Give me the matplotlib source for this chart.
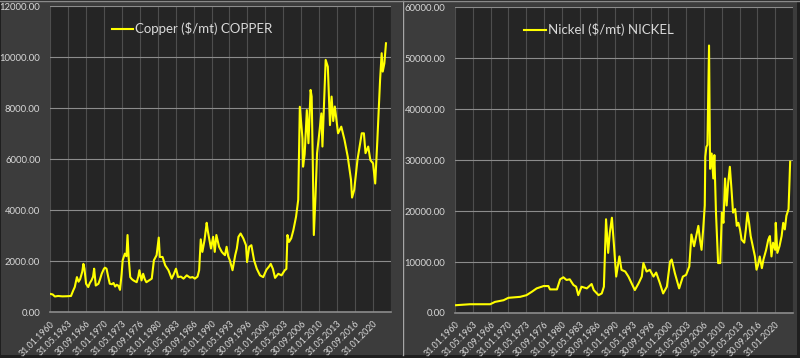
import matplotlib
matplotlib.use("Agg")
import matplotlib.pyplot as plt
from matplotlib.patches import Rectangle
from matplotlib.lines import Line2D

# ---------------- data ----------------
copper_years = [1960.0, 1960.5, 1960.9, 1961.5, 1962.3, 1963.1, 1963.9, 1964.3, 1964.6, 1965.0,
                1965.3, 1965.6, 1966.0, 1966.2, 1966.4, 1966.7, 1967.1, 1967.4, 1967.7, 1968.0,
                1968.2, 1968.5, 1969.0, 1969.3, 1969.6, 1970.0, 1970.2, 1970.5, 1970.8, 1971.1,
                1971.5, 1971.8, 1972.1, 1972.4, 1972.7, 1973.0, 1973.3, 1973.5, 1973.9, 1974.2,
                1974.4, 1974.6, 1974.9, 1975.2, 1975.5, 1976.1, 1976.4, 1976.6, 1977.0, 1977.3,
                1977.6, 1977.9, 1978.4, 1978.9, 1979.3, 1979.8, 1980.2, 1980.4, 1980.9, 1981.4,
                1982.0, 1982.6, 1983.0, 1983.4, 1983.8, 1984.3, 1984.8, 1985.4, 1986.0, 1986.5,
                1986.9, 1987.4, 1987.7, 1988.0, 1988.3, 1988.7, 1989.1, 1989.3, 1989.5, 1989.9,
                1990.3, 1990.6, 1990.9, 1991.4, 1991.9, 1992.2, 1992.5, 1992.8, 1993.1, 1993.4,
                1993.9, 1994.4, 1994.7, 1995.0, 1995.4, 1995.9, 1996.4, 1996.6, 1997.0, 1997.4,
                1997.9, 1998.4, 1999.0, 1999.6, 2000.2, 2000.7, 2001.0, 2001.4, 2001.8, 2002.4,
                2003.0, 2003.6, 2003.9, 2004.1, 2004.4, 2004.8, 2005.2, 2005.7, 2006.1, 2006.4,
                2006.7, 2006.9, 2007.0, 2007.3, 2007.7, 2008.0, 2008.4, 2008.6, 2008.8, 2009.0,
                2009.3, 2009.6, 2010.0, 2010.4, 2010.6, 2011.2, 2011.6, 2012.0, 2012.3, 2012.6,
                2012.9, 2013.5, 2014.1, 2014.7, 2015.3, 2015.9, 2016.1, 2016.5, 2016.8, 2017.1,
                2017.9, 2018.3, 2018.6, 2019.1, 2019.5, 2020.0, 2020.4, 2020.8, 2021.3, 2021.6,
                2021.8, 2022.1, 2022.4]
copper_vals = [724, 700, 620, 640, 625, 630, 640, 850, 990, 1380,
               1200, 1300, 1600, 1900, 1710, 1120, 990, 1150, 1250, 1400,
               1710, 1050, 1120, 1300, 1510, 1700, 1750, 1710, 1400, 1120,
               1100, 1150, 1010, 1080, 1040, 880, 1500, 2040, 2300, 2200,
               3030, 2170, 1380, 1300, 1250, 1180, 1400, 1650, 1250, 1510,
               1300, 1180, 1250, 1320, 2040, 2240, 2930, 2170, 2170, 1840,
               1650, 1320, 1500, 1710, 1380, 1400, 1320, 1450, 1360, 1380,
               1320, 1400, 1650, 2860, 2370, 2830, 3510, 3200, 2960, 2500,
               2960, 2370, 3030, 2570, 2370, 2300, 2240, 2570, 2200, 2040,
               1650, 2240, 2500, 2960, 3090, 2900, 2630, 1970, 2570, 2630,
               2040, 1710, 1450, 1380, 1670, 1800, 1900, 1700, 1350, 1510,
               1450, 1650, 1700, 3030, 2760, 2900, 3220, 3750, 4410, 8060,
               7300, 6800, 5710, 6200, 7930, 6630, 8720, 8460, 6000, 3030,
               4500, 6240, 7000, 7800, 6500, 9900, 9630, 7340, 8460, 7500,
               8070, 7020, 7280, 6760, 6100, 5200, 4500, 4800, 5400, 5970,
               7020, 7020, 6240, 6500, 5970, 5840, 5050, 6760, 9090, 10160,
               9440, 9760, 10550]

nickel_years = [1960.0, 1962.8, 1966.6, 1967.5, 1969.1, 1970.0, 1972.2, 1973.4, 1974.4, 1975.3,
                1976.6, 1977.5, 1977.8, 1979.1, 1979.7, 1980.3, 1980.9, 1981.5, 1982.2, 1982.7,
                1983.1, 1983.7, 1984.7, 1985.6, 1986.0, 1986.9, 1987.5, 1987.9, 1988.3, 1988.7,
                1989.0, 1989.4, 1989.8, 1990.2, 1990.8, 1991.2, 1991.9, 1992.5, 1993.1, 1993.7,
                1994.4, 1995.0, 1995.3, 1995.9, 1996.5, 1997.2, 1997.7, 1998.4, 1999.0, 1999.7,
                2000.3, 2000.6, 2001.2, 2002.0, 2002.7, 2003.3, 2003.9, 2004.3, 2004.8, 2005.2,
                2005.6, 2005.9, 2006.2, 2006.5, 2006.8, 2006.9, 2007.1, 2007.3, 2007.6, 2007.8,
                2008.1, 2008.4, 2008.6, 2008.9, 2009.3, 2009.7, 2010.0, 2010.3, 2010.6, 2010.9,
                2011.2, 2011.5, 2011.8, 2012.1, 2012.5, 2012.8, 2013.1, 2013.4, 2013.7, 2014.2,
                2014.5, 2014.8, 2015.1, 2015.4, 2015.8, 2016.2, 2016.5, 2016.8, 2017.1, 2017.5,
                2017.8, 2018.3, 2018.7, 2019.0, 2019.3, 2019.6, 2020.0, 2020.1, 2020.4, 2020.8,
                2021.2, 2021.5, 2021.8, 2022.1, 2022.5, 2022.8]
nickel_vals = [1520, 1720, 1720, 2180, 2510, 2980, 3170, 3500, 4170, 4830,
               5290, 5290, 4630, 4630, 6610, 7010, 6480, 6610, 5490, 5160,
               3500, 5160, 4830, 5690, 4500, 3500, 3840, 5160, 18400, 11800,
               15700, 18700, 13100, 7150, 11100, 8470, 8140, 7150, 5820, 4500,
               5820, 7150, 9800, 8140, 8470, 7150, 7940, 5820, 3840, 5160,
               10100, 10500, 7810, 4830, 7150, 7480, 9130, 15400, 13100, 15100,
               17100, 14400, 12400, 16400, 21100, 30650, 32600, 33000, 52500, 28300,
               31300, 26400, 31000, 19700, 9800, 9800, 19700, 17700, 26400, 21100,
               25700, 28700, 24400, 19700, 20400, 17100, 17700, 16400, 14400, 13800,
               16400, 19700, 17700, 15100, 13100, 11100, 8500, 9500, 11100, 8800,
               10500, 12400, 14400, 15100, 11100, 13800, 12400, 17700, 11800, 13100,
               15100, 17700, 16400, 19100, 20400, 29700]

date_labels = ["31.01.1960", "31.05.1963", "30.09.1966", "31.01.1970", "31.05.1973",
               "30.09.1976", "31.01.1980", "31.05.1983", "30.09.1986", "31.01.1990",
               "31.05.1993", "30.09.1996", "31.01.2000", "31.05.2003", "30.09.2006",
               "31.01.2010", "31.05.2013", "30.09.2016", "31.01.2020"]

copper_yticks = [0, 2000, 4000, 6000, 8000, 10000, 12000]
nickel_yticks = [0, 10000, 20000, 30000, 40000, 50000, 60000]
copper_label = "Copper ($/mt) COPPER"
nickel_label = "Nickel ($/mt) NICKEL"

# ---------------- style ----------------
W, H = 800, 358
FONT = ["Lato", "DejaVu Sans"]
plt.rcParams['font.family'] = FONT

fig = plt.figure(figsize=(W / 100, H / 100), dpi=100)
fig.patch.set_facecolor("#1f1f1f")

def px_rect(x0, y0, x1, y1):
    """pixel box (top-left origin) -> figure fraction [l, b, w, h]"""
    return [x0 / W, 1 - y1 / H, (x1 - x0) / W, (y1 - y0) / H]

PANEL = "#3c3c3c"
PLOT = "#252525"
TXT = "#d9d9d9"

# panel backgrounds
for (x0, x1) in [(1, 402), (404, 797)]:
    l, b, w, h = px_rect(x0, 1, x1, 355)
    fig.add_artist(Rectangle((l, b), w, h, transform=fig.transFigure,
                             facecolor=PANEL, edgecolor="none", zorder=0))
# separator + top line
fig.add_artist(Line2D([403 / W, 403 / W], [1 - 355 / H, 1 - 1 / H], transform=fig.transFigure,
                      color="#a6a6a6", lw=1.0, zorder=1))
fig.add_artist(Line2D([0, 1], [1 - 1 / H, 1 - 1 / H], transform=fig.transFigure,
                      color="#8a8a8a", lw=1.0, zorder=1))

month_step = 40 / 12.0
tick_pos = [1960.0 + i * month_step for i in range(len(date_labels))]
x_end = 1960.0 + len(date_labels) * month_step


def make_panel(rect, years, vals, yticks, label, leg_xy):
    ax = fig.add_axes(rect)
    ax.set_facecolor(PLOT)
    ax.plot(years, vals, color="#ffff00", lw=1.5, solid_joinstyle="round", zorder=3,
            label=label)
    ax.set_xlim(1960.0, x_end)
    ax.set_ylim(yticks[0], yticks[-1])
    ax.set_yticks(yticks)
    ax.set_yticklabels([f"{v:.2f}" for v in yticks])
    ax.set_xticks(tick_pos + [x_end])
    ax.set_xticklabels(date_labels + [""], rotation=45, ha="right", va="top",
                       rotation_mode="anchor")
    ax.tick_params(axis="x", length=0, pad=5, labelsize=6.4, colors=TXT)
    ax.tick_params(axis="y", length=0, pad=7, labelsize=6.8, colors=TXT)
    ax.grid(axis="y", color="#8c8c8c", lw=0.8, zorder=1)
    ax.grid(axis="x", color="#4e4e4e", lw=0.8, zorder=1)
    for s in ["top", "left", "right"]:
        ax.spines[s].set_visible(False)
    ax.spines["bottom"].set_color("#8c8c8c")
    ax.spines["bottom"].set_linewidth(1.2)
    leg = ax.legend(loc="upper left", bbox_to_anchor=leg_xy, frameon=False,
                    handlelength=1.6, handletextpad=0.15, borderaxespad=0,
                    prop={"family": FONT, "size": 9.5})
    for t in leg.get_texts():
        t.set_color(TXT)
    return ax

make_panel(px_rect(50, 6.3, 391, 312.3), copper_years, copper_vals, copper_yticks,
           copper_label, (0.165, 0.965))
make_panel(px_rect(455, 7.3, 793, 313), nickel_years, nickel_vals, nickel_yticks,
           nickel_label, (0.19, 0.965))

fig.savefig("out.png", dpi=100, facecolor=fig.get_facecolor())
